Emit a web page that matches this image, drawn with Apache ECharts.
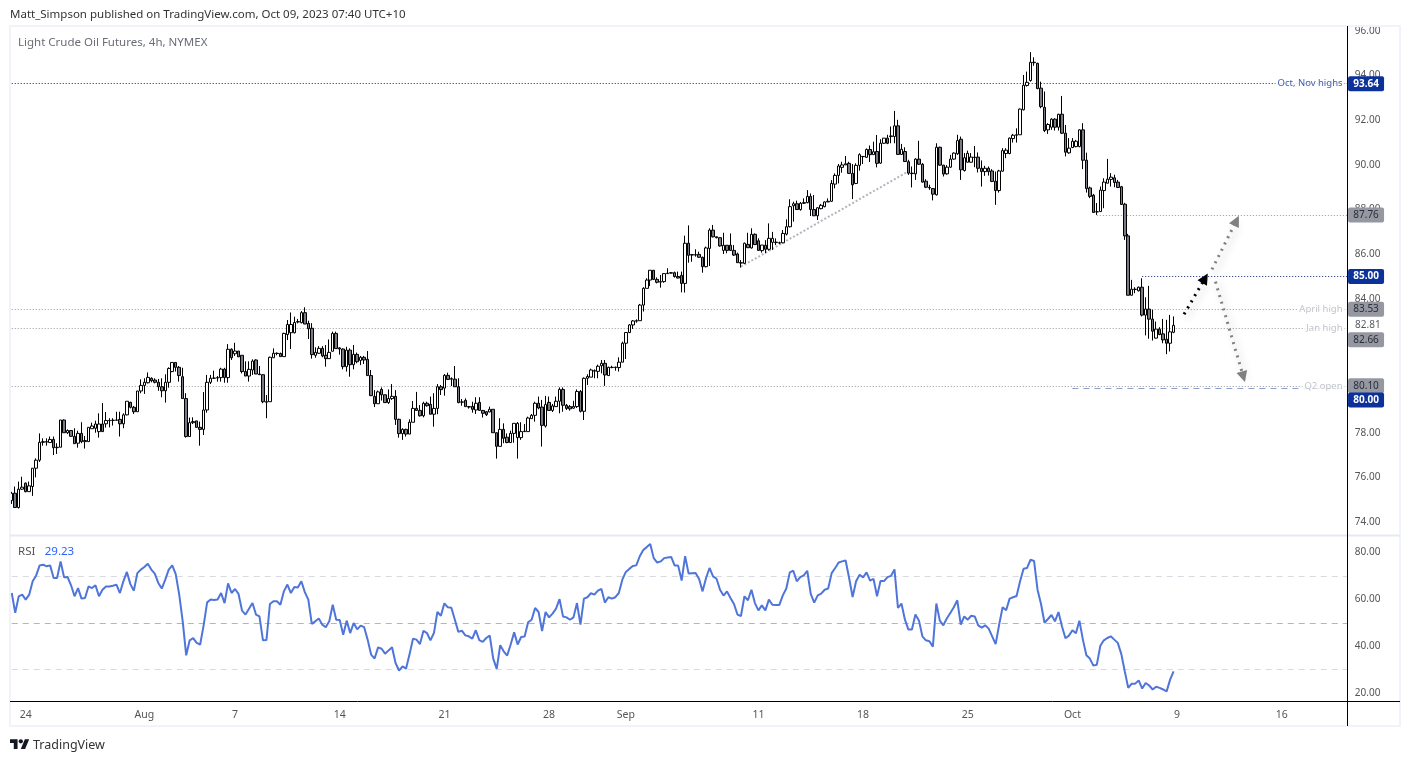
<!DOCTYPE html>
<html>
<head>
<meta charset="utf-8">
<title>Light Crude Oil Futures</title>
<script src="https://cdn.jsdelivr.net/npm/echarts@6/dist/echarts.min.js"></script>
<style>
html,body{margin:0;padding:0;background:#fff}
#main{width:1410px;height:762px}
</style>
</head>
<body>
<div id="main"></div>
<script>
// 4h bars, [open, close, low, high]
const barsJul = [
[74.96,75.29,74.81,75.35],[75.29,74.65,74.65,75.59],[74.65,75.47,74.6,75.81],[75.47,75.56,75.44,76.03],[75.74,75.36,75.33,75.77],[75.36,75.62,75.36,75.81],
[75.59,76.41,75.17,76.41],[76.41,76.77,76,76.85],[76.77,77.57,76.69,77.97],[77.57,77.6,77.42,77.75],[77.6,77.58,77.42,77.75],[77.56,77.7,77.56,77.83],
[77.7,77.33,77,77.83],[77.33,77.35,77.05,77.53],[77.35,78.57,77.35,78.57],[78.57,78,78,78.6],[78,78.1,77.94,78.15],[78.1,77.84,77.84,78.1],
[77.84,77.51,77.51,78.2],[77.53,77.97,77.33,78.09],[77.97,77.6,77.53,78.47],[77.6,77.65,77.29,77.85],[77.6,78.24,77.6,78.24],[78.18,78.3,78.18,78.45],
[78.2,78.39,78,78.54],[78.05,78.39,77.78,78.87],[78.39,78.05,78.05,79.33],[78.4,78.55,78.23,78.93],[78.55,78.54,78.24,78.65],[78.55,78.56,78.32,78.65],
[78.56,78.57,78.54,78.94],[78.6,78.4,77.83,78.94],[78.4,78.8,78.2,78.87],[78.8,79.41,78.78,79.41],[79.36,79.14,79.09,79.39],[79.14,78.94,78.84,79.2],
[78.94,79.87,78.94,79.87],[79.87,80.12,79.77,80.39]
];
const barsAug = [
[80.12,80.26,79.74,80.44],[80.24,80.48,80.21,80.7],[80.44,80.33,80.26,80.48],[80.36,80.26,80.21,80.44],[80.26,80.06,79.88,80.41],[80.06,79.88,79.59,80.44],
[79.88,80.26,79.35,80.62],[80.26,80.88,80.02,80.93],[80.74,81.15,80.71,81.15],[81.15,80.93,80.74,81.15],[80.93,80.56,80.29,80.99],[80.51,79.53,79.53,80.91],
[79.53,77.83,77.78,79.77],[77.83,78.45,77.83,78.68],[78.45,78.5,78.39,78.69],[78.53,78.24,78.24,78.53],[78.24,78.15,77.42,78.5],[78.15,79.02,77.9,79.82],
[79.02,80.26,78.9,80.59],[80.26,80.44,80.18,80.59],[80.44,80.45,80.42,80.78],[80.45,80.47,80.29,80.54],[80.47,80.85,80.29,80.91],[80.85,80.47,80.24,80.91],
[80.47,81.74,80.24,81.97],[81.74,81.36,81.26,81.78],[81.54,81.66,81.44,82.03],[81.66,81.4,81.4,81.66],[81.47,80.74,80.66,81.47],[80.74,80.54,80.54,81.2],
[80.54,80.84,80.29,81.2],[80.81,81.21,80.59,81.29],[81.26,80.63,80.63,81.29],[80.63,80.6,80.59,80.99],[80.6,79.39,79.32,80.6],[79.39,79.37,78.65,79.69],
[79.39,81.38,79.39,81.41],[81.36,81.56,81.36,81.78],[81.56,81.55,81.47,81.6],[81.55,81.41,81.41,81.59],[81.41,82.45,81.41,82.48],[82.4,82.85,82.15,83.05],
[82.48,82.85,81.75,83.39],[82.48,82.94,82.45,83.2],[82.96,82.98,82.9,83.1],[82.93,83.38,82.9,83.45],[83.38,82.87,82.87,83.62],[82.9,82.66,82.2,83.02],
[82.68,81.5,81.32,82.91],[81.47,81.6,81.36,81.83],[81.56,81.78,81.53,81.88],[81.78,81.44,81.38,81.88],[81.47,81.32,80.96,81.93],[81.32,81.6,81.32,82.18],
[81.65,82.45,81.65,82.53],[82.45,81.77,81.77,82.53],[81.8,81.75,81.5,81.83],[81.75,80.96,80.84,81.78],[80.96,81.7,80.74,81.85],[81.7,81.05,80.51,81.78],
[81.05,81.51,80.84,81.93],[81.51,81.18,81.11,81.59],[81.24,81.38,81.03,81.44],[81.38,81.26,81.08,81.44],[81.29,80.56,80.56,81.66],[80.56,79.66,79.66,80.81],
[79.63,79.3,79.15,79.91],[79.3,79.83,79.3,79.89],[79.94,79.7,79.44,80.03],[79.7,79.35,79.35,79.7],[79.35,79.53,79.29,79.94],[79.53,79.63,79.47,80.18],
[79.63,78.6,78.35,79.91],[78.6,77.96,77.78,78.63],[77.96,78.15,77.68,78.2],[78.15,77.94,77.83,78.18],[77.94,78.47,77.94,78.6],[78.47,79.09,78.47,79.42],
[79.09,79,79,79.83],[79,78.76,78.72,79.24],[78.76,79.32,78.69,79.39],[79.32,79.21,79.17,79.39],[79.27,78.83,78.83,79.62],[78.83,79.09,78.27,79.77],
[79.09,80.06,78.83,80.18],[80.06,79.93,79.69,80.14],[80,80.57,79.66,80.63],[80.57,80.39,80.36,80.69],[80.42,80.4,80.09,80.48],[80.4,80.06,80.06,80.99],
[80.06,79.35,79.32,80.44],[79.37,79.38,79.21,79.51],[79.45,79.17,79.17,79.54],[79.17,79.15,79.08,79.2],[79.18,79.05,78.9,79.39],[79.02,79.32,78.84,79.59],
[79.36,79,79,79.59],[79,78.87,78.68,79.02],[78.94,78.81,78.75,78.97],[78.93,79.05,78.92,79.17],[79.05,78,78,79.05],[78,77.39,76.84,78.02],
[77.39,78.15,77.39,78.65],[78.15,77.75,77.53,78.42],[77.8,77.56,77.53,77.97],[77.56,77.97,77.56,78.09],[77.97,78.42,77.55,78.42],[77.78,78.42,76.84,78.48],
[77.78,78.05,77.68,78.47],[78.05,78.07,78.04,78.39],[78.05,78.66,78.05,78.72],[78.63,78.78,78.63,78.84],[78.78,79.32,78.5,79.39],[79.32,79.11,79.05,79.62],
[79.15,78.33,77.38,79.47],[78.3,79.26,78.23,79.65],[79.36,79,79,79.62],[79,79.2,78.93,79.29],[79.17,79.41,79.17,79.62],[79.41,79.94,78.87,80.03],
[79.94,79.23,78.94,80.03],[79.23,79.09,79.02,79.29],[79.17,79.07,78.99,79.24],[79.1,79.18,79.08,79.43],[79.17,79.85,79.11,79.94],[79.85,78.96,78.91,79.91],
[78.96,80.44,78.57,80.48],[80.44,80.52,80.14,80.62],[80.49,80.81,80.49,80.87],[80.78,80.76,80.44,80.84],[80.75,80.98,80.44,81.05],[81,81.11,80.66,81.26],
[81.11,80.59,80.1,81.26],[80.56,80.93,80.56,80.96],[80.93,80.92,80.89,81],[80.92,80.94,80.78,80.96],[80.92,81.16,80.74,81.38],[81.16,82.01,81.16,82.08]
];
const barsSep = [
[82.01,82.49,81.3,82.49],[82.49,82.83,82.46,82.87],[82.83,83.01,82.65,83.05],[83,83.02,82.93,83.08],[83.02,83.72,83.02,83.77],[83.72,84.47,83.43,84.52],
[84.47,84.84,84.47,84.92],[84.84,85.28,84.57,85.29],[85.28,84.87,84.84,85.29],[84.87,84.74,84.69,84.96],[84.77,84.75,84.5,85.07],[84.77,85.13,84.72,85.14],
[85.13,85.15,85.11,85.37],[85.15,85.17,85.14,85.2],[85.17,85,84.95,85.22],[85,84.93,84.92,85.22],[85.05,84.69,84.29,85.22],[84.69,86.49,84.28,86.83],
[86.49,85.95,85.62,87.29],[85.96,85.98,85.66,86.01],[85.96,85.98,85.89,86.22],[85.99,85.86,85.86,86.11],[85.86,85.44,85.17,85.89],[85.44,86.28,85.41,86.34],
[86.26,87.08,85.47,87.16],[87.08,86.78,86.75,87.31],[86.78,86.74,86.71,86.78],[86.74,86.37,86.34,86.75],[86.17,86.4,86.01,86.96],[86.4,86.17,86.04,86.41],
[86.4,86.17,86.16,86.93],[86.17,85.96,85.92,86.41],[86.01,85.62,85.62,86.07],[85.62,85.6,85.4,85.74],[85.59,86.49,85.56,86.52],[86.44,86.29,86.29,86.96],
[86.28,86.89,86.25,87.16],[86.89,86.43,86.41,86.93],[86.6,86.17,86.16,86.71],[86.16,86.41,86.07,86.41],[86.4,86.22,86.04,86.63],[86.22,86.71,86.16,87.38],
[86.53,86.71,86.19,87],[86.54,86.52,86.41,86.71],[86.5,86.51,86.46,86.56],[86.51,86.93,86.49,87.08],[86.9,87.23,86.84,87.56],[87.23,88.13,87.2,88.46],
[88.17,88.26,87.46,88.35],[88.26,88,87.98,88.4],[88,88.28,87.95,88.34],[88.28,88.31,88.25,88.5],[88.31,88.59,88.28,88.87],[88.59,88,87.71,88.72],
[88,87.72,87.71,88.65],[87.72,88.08,87.53,88.1],[88.04,88.19,88.01,88.25],[88.13,88.34,88.1,88.37],[88.34,88.37,88.34,88.5],[88.37,89.17,88.34,89.32],
[89.14,89.53,88.95,89.62],[89.53,89.95,89.17,90.04],[89.89,90,89.65,90.14],[90,90.05,90,90.4],[90.07,89.62,89.59,90.14],[89.62,89.11,88.47,90.04],
[89.17,89.98,89.14,90.07],[89.98,90.46,89.74,90.52],[90.37,90.38,90.04,90.4],[90.34,90.69,90.31,90.74],[90.69,90.46,90.13,90.87],[90.46,90.59,90.46,91.04],
[90.6,90.07,89.89,91.34],[90.08,90.97,90.05,91.15],[90.97,91.2,90.94,91.2],[91.2,90.97,90.93,91.35],[91.27,91.3,90.97,91.72],[91.27,91.75,90.97,92.42],
[91.75,90.47,90.45,92.02],[90.47,90.7,90.45,90.94],[90.6,90.15,90.15,90.79],[90.14,89.63,89.55,90.23],[89.63,89.61,88.99,89.93],[89.6,90.26,89.33,90.3],
[90.26,90.03,90,91.08],[90.03,89.23,89.21,90.08],[89.27,89,88.96,89.36],[88.99,88.97,88.88,89.11],[88.94,88.69,88.41,88.96],[88.66,90.79,88.63,90.97],
[90.79,89.99,89.96,90.82],[89.99,89.59,89.48,90],[89.6,89.9,89.56,89.99],[89.9,90.26,89.87,90.45],[90.26,90.53,90.23,90.56],[90.5,91.09,90.45,91.35],
[91.15,89.78,89.33,91.27],[89.75,90.32,89.7,90.53],[90.12,90.52,90.11,90.64],[90.12,90.35,90.11,90.53],[90.33,90.35,89.9,90.85],[90.35,89.85,89.66,90.56],
[89.85,89.7,89.03,90.2],[89.7,89.85,89.51,89.96],[89.85,89.7,89.52,89.93],[89.73,89.26,89.23,89.81],[89.27,88.85,88.21,89.7],[88.85,89.73,88.76,89.78],
[89.72,90.64,89.7,90.75],[90.51,90.66,90.3,90.75],[90.51,91.2,90.48,91.23],[91.18,91.33,91,91.39],[91.33,91.35,91,91.64],[91.35,92.5,91.35,92.53],
[92.47,93.57,92.44,94.03],[93.56,93.7,93.51,94.18],[93.78,94.6,93.73,95.05],[94.6,94.58,94.44,94.82],[94.55,93.42,93.39,94.58],[93.44,92.61,92.54,93.73],
[92.58,91.54,91.47,93.29],[91.57,91.81,91.39,91.87]
];
const barsOct = [
[91.69,92.05,91.57,92.09],[92.05,91.69,91.54,92.09],[91.69,92.27,91.54,92.29],[92.27,91.42,91.39,93.09],[91.42,90.57,90.38,91.79],[90.54,90.75,90.5,91.2],
[90.78,91.06,90.75,91.2],[90.82,91.06,90.79,91.12],[90.82,91.57,90.79,91.6],[91.57,90.21,89.81,91.87],[90.21,88.94,88.76,90.55],[88.97,88.59,88.51,89.03],
[88.64,87.87,87.87,88.7],[87.9,87.9,87.76,88.29],[87.91,88.87,87.91,89.03],[88.85,89.23,88.06,89.4],[89.18,89.36,89.18,90.27],[89.35,89.45,89.03,89.63],
[89.42,89.21,89,89.56],[89.23,88.99,88.96,89.33],[89.02,88.23,88.21,89.06],[88.24,86.82,86.64,88.3],[86.82,84.16,84.16,86.91],[84.16,84.43,84.16,84.85],
[84.43,84.42,84.25,84.52],[84.36,84.52,84.33,84.55],[84.52,83.27,83.21,84.92],[83.27,83.54,82.36,84.07],[83.54,83.09,82.21,84.58],[83.09,82.55,82.13,83.51],
[82.24,82.64,82.22,82.98],[82.64,82.4,82.37,82.73],[82.43,82.16,82.01,83.1],[82.19,82.01,81.52,83.06],[82.01,82.52,81.64,83.28],[82.5,82.81,82.46,83.21]
];
const rsiValues = [
62.7,54.2,61.3,62,59.9,62,67.7,70.2,74.5,74.8,74.1,74.5,69.1,69.1,76.2,69.4,69.5,66,61.3,64.8,60.3,60.6,65.5,64.8,66,61.3,64.1,65.5,65.5,65.8,
66.3,62.7,67.7,71.7,66.5,63.7,71.2,72.7,73.8,75.2,72.7,71,67,64.6,68.4,72.7,74.5,70.8,62,50.6,36.1,42.5,43.4,41.4,40.7,48.9,58.7,59.9,59.7,59.9,
62.7,58.4,66.8,62.7,64.4,62.3,55.2,53.5,56,58.4,53.5,52.7,42.5,42.6,58,59.2,59.2,57.7,63.4,66.3,62.7,65.3,65.1,67.7,63.1,59.9,49.5,50.6,51.8,49.2,
48.1,50.6,57.7,51.3,51.2,44.9,50.9,45.6,49.9,47.2,48.8,48.1,42.8,36.4,34.7,39.5,38.9,36.8,38.2,39.5,32.8,29.6,31.4,30.4,36.4,43.2,42.8,40.9,46.6,45.6,
42.5,45.6,54.6,53,58.3,56.6,56.4,51.3,46.1,46.6,44.6,44.2,43.2,46.8,42.6,
41.8,43.5,44.5,34.7,30.3,40.4,37.8,36,40.7,45.9,40.7,43.9,44.1,50.2,51.3,56.3,54.6,46.4,54.6,52.3,53.9,56,60.1,52.7,52.3,51.3,52.3,58.4,49.2,60.3,
60.9,62.6,62,63.7,64.4,58.6,60.9,60.3,60.9,62.7,68.4,71.7,73,74.2,74.5,78.4,81.1,82.3,83.6,77.6,75.7,76.2,77.6,77.9,78.1,74.4,74.4,68,78.4,71,
71.1,71.2,68.7,63.4,69.1,73.4,69.8,68.8,64.1,61.6,63.4,60.6,58,53.5,52.9,61.3,59.6,64.1,58.4,55.3,57.4,55.3,59.9,57.7,57.6,57.6,61.7,64.6,71.5,72.2,
67.7,69.5,70.2,72.2,62.3,58.6,61.7,62.4,64.1,64.6,71.2,73.4,75.7,76.2,76.6,69.1,61,67.7,70.5,69.4,71.5,68,68.7,61.3,67.8,67.8,69.5,70,72.8,56.3,
58.2,51.3,47.1,47.1,53.5,51,44.2,42.5,42.1,39.8,58.2,50.9,48.9,51.8,
54.2,56.6,59.6,49.2,52.7,51.3,53,52.7,48.9,47.9,48.9,47.5,44.2,40.9,49.2,56.6,55.3,60.3,60.9,61.4,67.7,73.1,73.4,76.9,76.4,64.1,58,50,51.6,53.3,
50.6,54.6,48.5,43.4,44.5,46.8,45.5,50.9,42.8,36.1,34.7,31.7,32.1,40.2,42.5,43.5,44.2,42.8,41.4,36.7,29.3,22.2,24,24,25.4,21.9,24.3,23.2,21.5,22.7,
22.2,21.5,20.7,25.7,29.23
];
const barCount = 384;                       // bars plus the empty space on the right
const tickIndex = [4,38,64,94,124,154,176,214,244,274,304,334,364];
const tickLabels = ['24','Aug','7','14','21','28','Sep','11','18','25','Oct','9','16'];
// horizontal levels: price, first bar, note, tag shift
const levelPrices = [93.64,87.76,85,83.53,82.66,80.1,80];
const levelStart = [0,311,324,0,0,0,304];
const levelNotes = ['Oct, Nov highs','','','April high','Jan high','Q2 open',''];
const levelKinds = ['blue','grey','blue','grey','plain','grey','dash'];
const levelShift = [0,0,0,0,11,0,12];
const lastPrice = 82.81;
const rsiBands = [70,50,30];

const FONT = '"Noto Sans"';
const candles = barsJul.concat(barsAug, barsSep, barsOct);
const categories = [];
for (var i = 0; i < barCount; i++) {
    categories.push(tickIndex.indexOf(i) >= 0 ? tickLabels[tickIndex.indexOf(i)] : '');
}

const NAVY = '#0c3299', GREY = '#9598a1';
var tagColors = {blue: NAVY, grey: GREY, plain: GREY, dash: NAVY};
var lineColors = {blue: '#12237a', grey: '#9598a1', plain: '#9598a1', dash: '#8f9fcc'};

var levelLines = levelPrices.map(function (p, k) {
    var kind = levelKinds[k];
    return [{
        coord: [levelStart[k], p],
        lineStyle: {color: lineColors[kind], width: 1, type: kind == 'dash' ? [6, 5] : [1, 2]},
        label: {
            show: true, position: 'end', distance: 0, offset: [18, levelShift[k]],
            formatter: p.toFixed(2),
            backgroundColor: tagColors[kind], borderRadius: 2,
            color: kind == 'blue' || kind == 'dash' ? '#fff' : '#2a2e39',
            fontWeight: kind == 'blue' || kind == 'dash' ? 'bold' : 'normal',
            fontFamily: FONT, fontSize: 10,
            width: 36, height: 15, lineHeight: 15, align: 'center', verticalAlign: 'middle'
        }
    }, {coord: [barCount - 1, p]}];
});

// drawn trend line and the three dotted arrows
function arrow(a, b, color) {
    return [{
        coord: a,
        lineStyle: {color: color, width: 3, type: [2, 5], shadowBlur: 7, shadowColor: 'rgba(0,0,0,0.35)', shadowOffsetX: 3, shadowOffsetY: 3}
    }, {coord: b}];
}
var drawnLines = [
    [{coord: [209, 85.44], symbol: 'none', lineStyle: {color: '#b2b5be', width: 2, type: [2, 2]}}, {coord: [258, 89.8], symbol: 'none'}],
    arrow([336, 83.31], [342, 84.92], '#000'),
    arrow([344, 85.32], [351, 87.5], '#808080'),
    arrow([345, 84.77], [353, 80.51], '#808080')
];

var noteData = [];
levelNotes.forEach(function (n, k) {
    if (n) noteData.push({
        value: [382, levelPrices[k]],
        label: {formatter: n, color: levelKinds[k] == 'blue' ? NAVY : '#b2b5be'}
    });
});
noteData.push({
    value: [383, lastPrice],
    label: {formatter: lastPrice.toFixed(2), position: 'right', distance: 5, color: '#2a2e39', fontSize: 10, backgroundColor: '#fff'}
});

// TradingView mark, points in its own small box
function logoPart(points) {
    return {type: 'polygon', shape: {points: points}, style: {fill: '#131722'}};
}

var chart = echarts.init(document.getElementById('main'), null, {renderer: 'canvas'});
var option = {
    animation: false,
    backgroundColor: '#fff',
    textStyle: {fontFamily: FONT},
    title: [
        {text: 'Matt_Simpson published on TradingView.com, Oct 09, 2023 07:40 UTC+10', left: 10, top: 9, padding: 0,
            textStyle: {fontSize: 11.5, fontWeight: 'normal', color: '#333', fontFamily: FONT}},
        {text: 'Light Crude Oil Futures, 4h, NYMEX', left: 18, top: 37, padding: 0,
            textStyle: {fontSize: 11.5, fontWeight: 'normal', color: '#6a6d78', fontFamily: FONT}},
        {text: '{a|RSI}  {b|29.23}', left: 18, top: 543, padding: 0,
            textStyle: {rich: {a: {fontSize: 11.5, fontWeight: 'normal', color: '#555', fontFamily: FONT}, b: {fontSize: 11.5, fontWeight: 'normal', color: '#2962ff', fontFamily: FONT}}}},
        {text: 'TradingView', left: 33, top: 739, padding: 0,
            textStyle: {fontSize: 12.5, fontWeight: 'normal', color: '#333', fontFamily: FONT}}
    ],
    // each pane runs from its lowest to its highest tick, so min stays a multiple of interval
    grid: [
        {left: 10, top: 31, width: 1339.8, height: 491},
        {left: 10, top: 552.5, width: 1339.8, height: 140.5}
    ],
    xAxis: [
        {type: 'category', gridIndex: 0, data: categories, axisLine: {show: false}, axisTick: {show: false}, axisLabel: {show: false}, splitLine: {show: false}},
        {type: 'category', gridIndex: 1, data: categories, axisLine: {show: false}, axisTick: {show: false}, splitLine: {show: false},
            axisLabel: {
                interval: function (idx) { return tickIndex.indexOf(idx) >= 0; },
                color: '#555', fontSize: 10.5, fontFamily: FONT, margin: 17, hideOverlap: false
            }}
    ],
    yAxis: [
        {type: 'value', gridIndex: 0, position: 'right', offset: -2, min: 74, max: 96, interval: 2,
            axisLine: {show: false}, axisTick: {show: false}, splitLine: {show: false},
            axisLabel: {margin: 7, color: '#555', fontSize: 10, fontFamily: FONT, formatter: function (v) { return v.toFixed(2); }}},
        {type: 'value', gridIndex: 1, position: 'right', offset: -2, min: 20, max: 80, interval: 20,
            axisLine: {show: false}, axisTick: {show: false}, splitLine: {show: false},
            axisLabel: {margin: 7, color: '#555', fontSize: 10, fontFamily: FONT, formatter: function (v) { return v.toFixed(2); }}}
    ],
    series: [
        {
            type: 'candlestick', xAxisIndex: 0, yAxisIndex: 0, z: 5, data: candles, barWidth: 3, clip: false,
            itemStyle: {color: '#fff', color0: '#787b86', borderColor: '#000', borderColor0: '#000', borderColorDoji: '#000', borderWidth: 1},
            markLine: {silent: true, animation: false, symbol: ['none', 'none'], label: {show: false}, data: levelLines}
        },
        {
            // drawn lines in their own series so that the arrow heads can differ from the levels
            type: 'line', xAxisIndex: 0, yAxisIndex: 0, z: 6, data: [], showSymbol: false,
            markLine: {silent: true, animation: false, symbol: ['none', 'triangle'], symbolSize: 11, label: {show: false},
                data: drawnLines}
        },
        {
            type: 'scatter', xAxisIndex: 0, yAxisIndex: 0, z: 7, symbolSize: 0, silent: true, data: noteData,
            label: {show: true, position: 'left', distance: 0, fontSize: 9.5, fontFamily: FONT, backgroundColor: '#fff', padding: [0, 2]}
        },
        {
            // RSI goes over 80 at the start of September, the pane has room for it above the top tick
            type: 'line', xAxisIndex: 1, yAxisIndex: 1, z: 5, data: rsiValues, showSymbol: false, smooth: false, clip: false,
            lineStyle: {color: '#4f75da', width: 2},
            markLine: {
                silent: true, animation: false, symbol: ['none', 'none'], label: {show: false},
                data: rsiBands.map(function (v) {
                    return [{coord: [0, v], lineStyle: {color: v == 50 ? '#b2b5be' : '#d8dae0', width: 1, type: [6, 5]}}, {coord: [barCount - 1, v]}];
                })
            }
        }
    ],
    graphic: [
        // pane frame, separators and the TradingView mark
        {type: 'rect', z: 20, shape: {x: 10, y: 26, width: 1390, height: 700}, style: {fill: 'none', stroke: '#f0f3fa', lineWidth: 2}},
        {type: 'line', z: 20, shape: {x1: 10, y1: 535.5, x2: 1400, y2: 535.5}, style: {stroke: '#e6e9f2', lineWidth: 2}},
        {type: 'line', z: 20, shape: {x1: 10, y1: 701.5, x2: 1400, y2: 701.5}, style: {stroke: '#000', lineWidth: 1}},
        {type: 'line', z: 20, shape: {x1: 1347.5, y1: 26, x2: 1347.5, y2: 726}, style: {stroke: '#000', lineWidth: 1}},
        {type: 'group', z: 20, x: 10, y: 737, scaleX: 0.54, scaleY: 0.54, children: [
            logoPart([[0, 4], [14, 4], [14, 22], [7, 22], [7, 11], [0, 11]]),
            logoPart([[20, 22], [28, 22], [35.5, 4], [27.5, 4]]),
            {type: 'circle', shape: {cx: 20, cy: 8, r: 4}, style: {fill: '#131722'}}
        ]}
    ]
};
chart.setOption(option);
</script>
</body>
</html>
